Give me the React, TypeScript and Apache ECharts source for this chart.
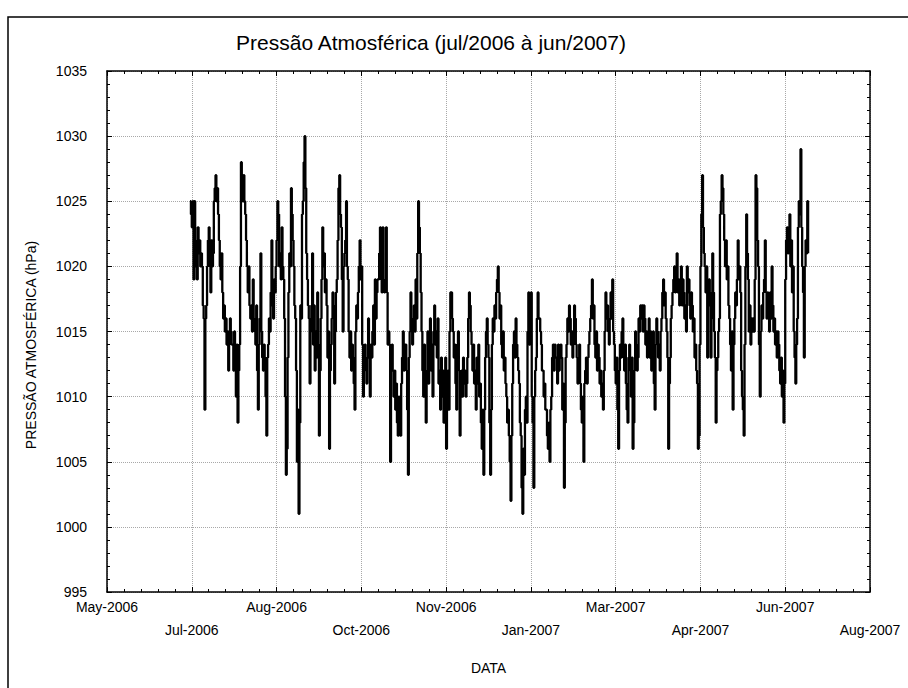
import React, { useEffect, useRef } from "react";
import * as echarts from "echarts";

// Pressão atmosférica (hPa), duas leituras por dia, jul/2006 a jun/2007
const jul2006 = [1025,1024, 1023,1025, 1019,1025, 1022,1020, 1019,1023, 1021,1022, 1020,1021, 1020,1017, 1016,1009, 1016,1017, 1020,1022, 1023,1020, 1018,1022, 1020,1021, 1025,1026, 1027,1025, 1026,1024, 1022,1020, 1019,1021, 1018,1016, 1017,1015, 1016,1014, 1015,1012, 1014,1016, 1015,1014, 1014,1012, 1015,1014, 1010,1014, 1008,1012, 1014,1020, 1028,1026];
const ago2006 = [1025,1027, 1025,1024, 1022,1020, 1018,1020, 1017,1016, 1017,1015, 1019,1016, 1015,1014, 1017,1012, 1009,1014, 1016,1021, 1015,1013, 1012,1014, 1013,1010, 1007,1013, 1014,1016, 1015,1018, 1022,1017, 1016,1019, 1018,1020, 1022,1025, 1024,1020, 1021,1019, 1023,1020, 1019,1016, 1010,1004, 1006,1013, 1018,1021, 1020,1026, 1024,1022, 1020,1017];
const set2006 = [1016,1012, 1005,1009, 1001,1008, 1017,1016, 1024,1025, 1028,1030, 1026,1021, 1019,1017, 1016,1011, 1015,1017, 1021,1014, 1017,1012, 1015,1013, 1018,1014, 1007,1012, 1016,1019, 1023,1020, 1021,1018, 1019,1017, 1013,1015, 1006,1012, 1014,1016, 1018,1017, 1011,1015, 1018,1019, 1022,1026, 1027,1024, 1023,1019, 1015,1020, 1021,1022];
const out2006 = [1025,1020, 1019,1015, 1013,1015, 1012,1014, 1013,1011, 1009,1015, 1017,1016, 1018,1020, 1022,1019, 1020,1014, 1010,1013, 1014,1012, 1011,1013, 1016,1013, 1010,1014, 1013,1015, 1017,1014, 1019,1016, 1018,1019, 1019,1021, 1023,1019, 1018,1023, 1019,1018, 1019,1023, 1018,1014, 1015,1014, 1005,1012, 1014,1012, 1010,1012, 1009,1011, 1008,1007];
const nov2006 = [1010,1008, 1007,1011, 1013,1015, 1012,1014, 1014,1012, 1009,1004, 1013,1015, 1018,1016, 1014,1016, 1017,1015, 1019,1016, 1021,1025, 1023,1021, 1018,1015, 1012,1010, 1014,1011, 1008,1012, 1015,1011, 1013,1016, 1012,1014, 1010,1015, 1017,1014, 1015,1013, 1016,1011, 1012,1009, 1013,1010, 1012,1008, 1010,1013, 1006,1011, 1012,1009];
const dez2006 = [1015,1018, 1018,1016, 1015,1013, 1014,1011, 1009,1014, 1015,1012, 1007,1011, 1012,1010, 1013,1011, 1012,1010, 1011,1013, 1016,1018, 1017,1015, 1014,1012, 1014,1011, 1012,1009, 1013,1011, 1014,1010, 1011,1008, 1006,1009, 1004,1009, 1013,1015, 1016,1014, 1013,1008, 1004,1009, 1014,1016, 1015,1017, 1016,1018, 1019,1020, 1018,1016, 1017,1014];
const jan2007 = [1013,1015, 1012,1013, 1011,1010, 1008,1009, 1007,1005, 1002,1007, 1011,1014, 1015,1013, 1016,1014, 1013,1012, 1011,1008, 1007,1003, 1001,1006, 1004,1009, 1010,1008, 1015,1018, 1014,1017, 1018,1010, 1008,1003, 1010,1012, 1013,1016, 1018,1016, 1016,1015, 1014,1012, 1012,1010, 1011,1009, 1009,1007, 1006,1008, 1005,1009, 1010,1013, 1014,1012];
const fev2007 = [1014,1013, 1013,1011, 1014,1012, 1013,1014, 1013,1009, 1011,1003, 1008,1013, 1014,1016, 1015,1017, 1016,1014, 1015,1013, 1014,1017, 1016,1014, 1013,1011, 1012,1014, 1011,1009, 1008,1010, 1005,1011, 1012,1013, 1011,1013, 1014,1015, 1016,1017, 1019,1016, 1017,1014, 1013,1015, 1012,1014, 1013,1011, 1012,1010];
const mar2007 = [1011,1009, 1012,1015, 1018,1016, 1017,1015, 1014,1016, 1018,1016, 1019,1015, 1014,1012, 1011,1013, 1009,1006, 1012,1014, 1013,1015, 1016,1013, 1012,1014, 1011,1009, 1008,1013, 1014,1012, 1010,1013, 1006,1008, 1012,1015, 1014,1012, 1013,1016, 1015,1017, 1016,1017, 1015,1017, 1016,1014, 1015,1013, 1014,1016, 1013,1015, 1012,1014, 1015,1011];
const abr2007 = [1009,1014, 1016,1015, 1013,1014, 1012,1015, 1016,1018, 1019,1017, 1018,1016, 1015,1013, 1006,1011, 1013,1016, 1017,1018, 1019,1020, 1018,1020, 1021,1018, 1019,1017, 1018,1020, 1017,1019, 1018,1016, 1017,1015, 1020,1018, 1019,1017, 1016,1018, 1017,1015, 1016,1013, 1014,1012, 1011,1006, 1007,1014, 1020,1024, 1027,1023, 1021,1020];
const mai2007 = [1018,1020, 1013,1017, 1019,1018, 1013,1016, 1021,1018, 1015,1013, 1008,1012, 1013,1015, 1016,1024, 1025,1027, 1026,1024, 1022,1020, 1022,1019, 1020,1017, 1016,1014, 1012,1015, 1009,1014, 1016,1018, 1017,1019, 1022,1019, 1020,1018, 1012,1010, 1009,1007, 1014,1020, 1024,1021, 1019,1015, 1017,1014, 1016,1015, 1016,1015, 1019,1027, 1026,1022];
const jun2007 = [1020,1014, 1010,1015, 1017,1016, 1018,1019, 1022,1018, 1016,1018, 1017,1015, 1018,1016, 1020,1017, 1015,1016, 1014,1015, 1013,1015, 1014,1012, 1011,1013, 1010,1012, 1008,1011, 1019,1022, 1023,1021, 1022,1024, 1020,1022, 1018,1020, 1015,1013, 1011,1014, 1016,1023, 1025,1024, 1029,1023, 1020,1018, 1013,1020, 1022,1021, 1025,1021];

// Datas como números seriais (1 = 01/01/1900); 38899 = 01/07/2006
const firstDaySerial = 38899;
const xMin = 38850;
const xMax = 39300;
const xStep = 50;
const yMin = 995;
const yMax = 1035;
const yStep = 5;
const monthNames = ["Jan", "Feb", "Mar", "Apr", "May", "Jun", "Jul", "Aug", "Sep", "Oct", "Nov", "Dec"];

const titleText = "Pressão Atmosférica (jul/2006 à jun/2007)";
const xName = "DATA";
const yName = "PRESSÃO ATMOSFÉRICA (hPa)";

function serialToLabel(v: number): string {
  const d = new Date(Math.round((v - 25569) * 86400000));
  return monthNames[d.getUTCMonth()] + "-" + d.getUTCFullYear();
}

const FONT = "'Liberation Sans', Arial, sans-serif";

export default function App() {
  const ref = useRef<HTMLDivElement>(null);
  useEffect(() => {
    if (!ref.current) return;
    const chart = echarts.init(ref.current, undefined, { renderer: "svg" });
    const values = [
      ...jul2006, ...ago2006, ...set2006, ...out2006, ...nov2006, ...dez2006,
      ...jan2007, ...fev2007, ...mar2007, ...abr2007, ...mai2007, ...jun2007,
    ];
    const data = values.map((v, i) => [firstDaySerial + i / 2, v]);

    const splitLine = { show: true, lineStyle: { color: "#a8a8a8", type: "dotted" as const, width: 1 } };
    const axisLine = { show: true, lineStyle: { color: "#000", width: 1.5 } };
    const axisTick = { show: true, inside: true, length: 5, lineStyle: { color: "#000", width: 1 } };
    const minorTick = { show: true, splitNumber: 5, length: 3, lineStyle: { color: "#000", width: 1 } };

    chart.setOption({
      animation: false,
      backgroundColor: "#fff",
      textStyle: { fontFamily: FONT },
      grid: { left: 107, top: 71, width: 763, height: 521, containLabel: false },
      graphic: [
        {
          type: "rect",
          shape: { x: 8, y: 17, width: 930, height: 700 },
          style: { fill: "none", stroke: "#000", lineWidth: 1.5 },
          silent: true,
        },
        {
          type: "text",
          x: 431,
          y: 42,
          style: {
            text: titleText,
            fontFamily: FONT,
            fontSize: 21,
            fill: "#000",
            textAlign: "center",
            textVerticalAlign: "middle",
          },
        },
        {
          type: "text",
          x: 31,
          y: 345,
          rotation: Math.PI / 2,
          style: {
            text: yName,
            fontFamily: FONT,
            fontSize: 14,
            fill: "#000",
            textAlign: "center",
            textVerticalAlign: "middle",
          },
        },
      ],
      xAxis: [
        {
          type: "value",
          min: xMin,
          max: xMax,
          interval: xStep,
          position: "bottom",
          name: xName,
          nameLocation: "middle",
          nameGap: 69,
          nameTextStyle: { fontSize: 14, color: "#000", fontFamily: FONT },
          axisLine,
          axisTick,
          minorTick,
          splitLine,
          axisLabel: {
            show: true,
            margin: 3,
            fontSize: 14,
            lineHeight: 23,
            color: "#000",
            fontFamily: FONT,
            showMinLabel: true,
            showMaxLabel: true,
            hideOverlap: false,
            formatter: (v: number, i: number) => (i % 2 === 1 ? "\n" : "") + serialToLabel(v),
          },
        },
        {
          type: "value",
          min: xMin,
          max: xMax,
          interval: xStep,
          position: "top",
          axisLine,
          axisTick,
          minorTick,
          splitLine: { show: false },
          axisLabel: { show: false },
        },
      ],
      yAxis: [
        {
          type: "value",
          min: yMin,
          max: yMax,
          interval: yStep,
          position: "left",
          axisLine,
          axisTick,
          minorTick,
          splitLine,
          axisLabel: {
            margin: 20,
            fontSize: 14,
            color: "#000",
            fontFamily: FONT,
            formatter: (v: number) => String(v),
          },
        },
        {
          type: "value",
          min: yMin,
          max: yMax,
          interval: yStep,
          position: "right",
          axisLine,
          axisTick,
          minorTick,
          splitLine: { show: false },
          axisLabel: { show: false },
        },
      ],
      series: [
        {
          type: "line",
          data,
          xAxisIndex: 0,
          yAxisIndex: 0,
          showSymbol: false,
          symbol: "none",
          step: "end",
          lineStyle: { color: "#000", width: 2.3 },
          z: 5,
        },
      ],
    });
    return () => chart.dispose();
  }, []);
  return (
    <div
      ref={ref}
      style={{ position: "absolute", left: 0, top: 0, width: 908, height: 688, background: "#fff" }}
    />
  );
}
